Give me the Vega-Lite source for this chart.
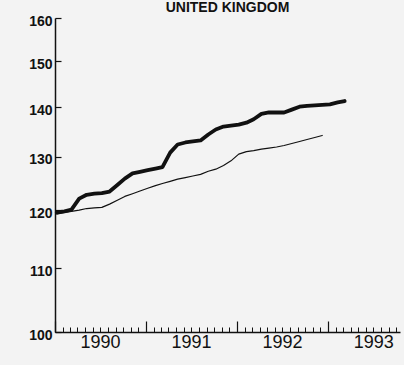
{
  "$schema": "https://vega.github.io/schema/vega-lite/v6.json",
  "autosize": "none",
  "padding": {"left": 55, "top": 18, "right": 4, "bottom": 33},
  "width": 345,
  "height": 314,
  "background": "#f3f3f3",
  "title": {
    "text": "UNITED KINGDOM",
    "font": "Liberation Sans",
    "fontSize": 14,
    "fontWeight": "bold",
    "color": "#111111",
    "anchor": "middle",
    "baseline": "bottom",
    "offset": 0,
    "dy": 15
  },
  "config": {
    "view": {"stroke": null},
    "axis": {"grid": false, "domainColor": "#111111", "tickColor": "#111111", "labelColor": "#111111"}
  },
  "data": {
    "values": [
      {"date": "1990-01-08", "series": "A", "value": 119.6},
      {"date": "1990-02-08", "series": "A", "value": 119.8},
      {"date": "1990-03-08", "series": "A", "value": 120.1},
      {"date": "1990-04-08", "series": "A", "value": 122.1},
      {"date": "1990-05-08", "series": "A", "value": 122.8},
      {"date": "1990-06-08", "series": "A", "value": 123.0},
      {"date": "1990-07-08", "series": "A", "value": 123.1},
      {"date": "1990-08-08", "series": "A", "value": 123.4},
      {"date": "1990-09-08", "series": "A", "value": 124.6},
      {"date": "1990-10-08", "series": "A", "value": 125.8},
      {"date": "1990-11-08", "series": "A", "value": 126.8},
      {"date": "1990-12-08", "series": "A", "value": 127.1},
      {"date": "1991-01-08", "series": "A", "value": 127.4},
      {"date": "1991-02-08", "series": "A", "value": 127.7},
      {"date": "1991-03-08", "series": "A", "value": 128.0},
      {"date": "1991-04-08", "series": "A", "value": 130.8},
      {"date": "1991-05-08", "series": "A", "value": 132.4},
      {"date": "1991-06-08", "series": "A", "value": 132.8},
      {"date": "1991-07-08", "series": "A", "value": 133.0},
      {"date": "1991-08-08", "series": "A", "value": 133.2},
      {"date": "1991-09-08", "series": "A", "value": 134.4},
      {"date": "1991-10-08", "series": "A", "value": 135.4},
      {"date": "1991-11-08", "series": "A", "value": 136.0},
      {"date": "1991-12-08", "series": "A", "value": 136.2},
      {"date": "1992-01-08", "series": "A", "value": 136.4},
      {"date": "1992-02-08", "series": "A", "value": 136.8},
      {"date": "1992-03-08", "series": "A", "value": 137.5},
      {"date": "1992-04-08", "series": "A", "value": 138.6},
      {"date": "1992-05-08", "series": "A", "value": 138.9},
      {"date": "1992-06-08", "series": "A", "value": 138.9},
      {"date": "1992-07-08", "series": "A", "value": 138.9},
      {"date": "1992-08-08", "series": "A", "value": 139.5},
      {"date": "1992-09-08", "series": "A", "value": 140.1},
      {"date": "1992-10-08", "series": "A", "value": 140.3},
      {"date": "1992-11-08", "series": "A", "value": 140.4},
      {"date": "1992-12-08", "series": "A", "value": 140.5},
      {"date": "1993-01-08", "series": "A", "value": 140.6},
      {"date": "1993-02-08", "series": "A", "value": 141.0},
      {"date": "1993-03-08", "series": "A", "value": 141.3},
      {"date": "1990-01-08", "series": "B", "value": 119.3},
      {"date": "1990-02-08", "series": "B", "value": 119.6},
      {"date": "1990-03-08", "series": "B", "value": 119.8},
      {"date": "1990-04-08", "series": "B", "value": 120.0},
      {"date": "1990-05-08", "series": "B", "value": 120.3},
      {"date": "1990-06-08", "series": "B", "value": 120.4},
      {"date": "1990-07-08", "series": "B", "value": 120.5},
      {"date": "1990-08-08", "series": "B", "value": 121.1},
      {"date": "1990-09-08", "series": "B", "value": 121.8},
      {"date": "1990-10-08", "series": "B", "value": 122.5},
      {"date": "1990-11-08", "series": "B", "value": 123.0},
      {"date": "1990-12-08", "series": "B", "value": 123.5},
      {"date": "1991-01-08", "series": "B", "value": 124.0},
      {"date": "1991-02-08", "series": "B", "value": 124.5},
      {"date": "1991-03-08", "series": "B", "value": 124.9},
      {"date": "1991-04-08", "series": "B", "value": 125.3},
      {"date": "1991-05-08", "series": "B", "value": 125.7},
      {"date": "1991-06-08", "series": "B", "value": 126.0},
      {"date": "1991-07-08", "series": "B", "value": 126.3},
      {"date": "1991-08-08", "series": "B", "value": 126.6},
      {"date": "1991-09-08", "series": "B", "value": 127.2},
      {"date": "1991-10-08", "series": "B", "value": 127.6},
      {"date": "1991-11-08", "series": "B", "value": 128.3},
      {"date": "1991-12-08", "series": "B", "value": 129.2},
      {"date": "1992-01-08", "series": "B", "value": 130.5},
      {"date": "1992-02-08", "series": "B", "value": 131.0},
      {"date": "1992-03-08", "series": "B", "value": 131.2},
      {"date": "1992-04-08", "series": "B", "value": 131.5},
      {"date": "1992-05-08", "series": "B", "value": 131.7},
      {"date": "1992-06-08", "series": "B", "value": 131.9},
      {"date": "1992-07-08", "series": "B", "value": 132.2},
      {"date": "1992-08-08", "series": "B", "value": 132.6},
      {"date": "1992-09-08", "series": "B", "value": 133.0},
      {"date": "1992-10-08", "series": "B", "value": 133.4},
      {"date": "1992-11-08", "series": "B", "value": 133.8},
      {"date": "1992-12-08", "series": "B", "value": 134.2}
    ]
  },
  "resolve": {"axis": {"x": "independent"}},
  "layer": [
    {
      "mark": {"type": "line", "color": "#111111", "strokeJoin": "round", "strokeCap": "round"},
      "encoding": {
        "x": {
          "field": "date", "type": "temporal",
          "scale": {"type": "utc", "domain": [{"year": 1990, "month": 1, "date": 1, "utc": true}, {"year": 1993, "month": 10, "date": 16, "utc": true}]},
          "axis": {
            "orient": "bottom",
            "title": null,
            "tickCount": {"interval": "year", "step": 1},
            "format": "%Y",
            "tickSize": -11,
            "tickWidth": 1.2,
            "domainWidth": 1.5,
            "labelOffset": 45,
            "labelPadding": 12,
            "labelFont": "Liberation Sans",
            "labelFontSize": 18,
            "labelFlush": false,
            "labelOverlap": false
          }
        },
        "y": {
          "field": "value", "type": "quantitative",
          "scale": {"type": "log", "domain": [100, 160], "nice": false, "zero": false},
          "axis": {
            "title": null,
            "values": [100, 110, 120, 130, 140, 150, 160],
            "tickSize": -6,
            "tickWidth": 1.2,
            "domainWidth": 1.5,
            "labelPadding": 9,
            "labelOffset": 3,
            "labelFont": "Liberation Sans",
            "labelFontSize": 14,
            "labelFontWeight": "bold",
            "labelOverlap": false
          }
        },
        "detail": {"field": "series"},
        "strokeWidth": {"field": "series", "type": "nominal", "scale": {"domain": ["A", "B"], "range": [3.8, 1.2]}, "legend": null}
      }
    },
    {
      "mark": {"type": "line", "opacity": 0},
      "encoding": {
        "x": {
          "field": "date", "type": "temporal",
          "axis": {
            "orient": "bottom",
            "title": null,
            "tickCount": {"interval": "month", "step": 1},
            "labels": false,
            "domain": false,
            "tickSize": -5,
            "tickWidth": 1
          }
        },
        "y": {"field": "value", "type": "quantitative"},
        "detail": {"field": "series"}
      }
    }
  ]
}
